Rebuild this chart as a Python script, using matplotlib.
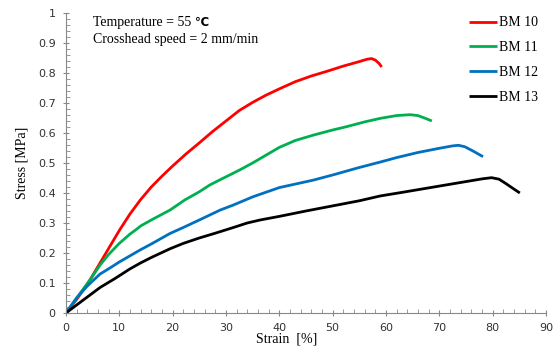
import matplotlib
matplotlib.use("Agg")
import matplotlib.pyplot as plt
from matplotlib.ticker import MultipleLocator, FuncFormatter

# BM 10 .. BM 13, strain [%] vs stress [MPa]
strain_bm10 = [0, 2, 4.5, 6, 8, 10, 12, 14, 16, 18, 20, 22.5, 25, 27.5, 30, 32.5, 35, 37.5, 40,
               43, 46, 49, 52, 55, 56.5, 57.3, 58, 58.7, 59.2]
stress_bm10 = [0, 0.045, 0.11, 0.155, 0.215, 0.275, 0.33, 0.378, 0.42, 0.456, 0.49, 0.53, 0.567,
               0.605, 0.64, 0.675, 0.702, 0.726, 0.747, 0.771, 0.79, 0.806, 0.823, 0.838, 0.846,
               0.848, 0.843, 0.832, 0.82]

strain_bm11 = [0, 2, 4.5, 6.4, 8, 10, 12, 13.3, 14, 16, 19.5, 22.3, 25, 27, 29, 32.6, 35, 40,
               43, 46.4, 50, 52.6, 56, 59, 62, 64.5, 66, 67.5, 68.6]
stress_bm11 = [0, 0.05, 0.11, 0.16, 0.195, 0.232, 0.263, 0.28, 0.29, 0.31, 0.343, 0.377, 0.404,
               0.427, 0.445, 0.477, 0.50, 0.552, 0.575, 0.593, 0.61, 0.621, 0.637, 0.649, 0.658,
               0.661, 0.658, 0.648, 0.64]

strain_bm12 = [0, 2, 4, 6.4, 8.25, 10, 13.9, 16, 19.5, 22, 25, 28.9, 31.4, 35, 40, 46.4, 50, 55,
               58.9, 62, 66, 70, 72.5, 73.6, 74.8, 76.3, 78.2]
stress_bm12 = [0, 0.05, 0.09, 0.13, 0.15, 0.17, 0.21, 0.23, 0.265, 0.285, 0.31, 0.343, 0.36,
               0.387, 0.418, 0.443, 0.46, 0.485, 0.503, 0.518, 0.535, 0.549, 0.557, 0.559, 0.554,
               0.54, 0.521]

strain_bm13 = [0, 3, 6.4, 9.2, 12, 13.9, 16, 19.5, 22, 25, 28, 31.4, 34, 36.4, 40, 45, 50, 55,
               58.9, 63, 67, 71, 75, 78, 79.8, 81.2, 82.6, 84, 85.1]
stress_bm13 = [0, 0.04, 0.085, 0.115, 0.147, 0.166, 0.185, 0.214, 0.232, 0.25, 0.266, 0.285,
               0.3, 0.31, 0.322, 0.34, 0.357, 0.374, 0.39, 0.402, 0.414, 0.426, 0.438, 0.447,
               0.451, 0.446, 0.43, 0.413, 0.4]

series = [
    ("BM 10", strain_bm10, stress_bm10, "#FF0000"),
    ("BM 11", strain_bm11, stress_bm11, "#00B050"),
    ("BM 12", strain_bm12, stress_bm12, "#0070C0"),
    ("BM 13", strain_bm13, stress_bm13, "#000000"),
]

fig = plt.figure(figsize=(5.53, 3.49), dpi=100)
ax = fig.add_axes([0.1193, 0.1032, 0.868, 0.8596])

for name, x, y, c in series:
    ax.plot(x, y, color=c, lw=2.0, label=name, solid_capstyle="butt", solid_joinstyle="round")

ax.set_xlim(0, 90)
ax.set_ylim(0, 1)
ax.xaxis.set_major_locator(MultipleLocator(10))
ax.xaxis.set_minor_locator(MultipleLocator(2))
ax.yaxis.set_major_locator(MultipleLocator(0.1))
ax.yaxis.set_minor_locator(MultipleLocator(0.02))
ax.yaxis.set_major_formatter(FuncFormatter(lambda v, p: f"{v:g}"))

for s in ["top", "right"]:
    ax.spines[s].set_visible(False)
for s in ["left", "bottom"]:
    ax.spines[s].set_color("#888888")
    ax.spines[s].set_linewidth(0.8)

ax.tick_params(which="major", direction="inout", length=5, width=0.8, color="#888888",
               labelsize=8, labelcolor="#333333", pad=5)
ax.tick_params(which="minor", direction="in", length=3, width=0.6, color="#888888")

serif = "Liberation Serif"
ax.set_xlabel("Strain  [%]", fontfamily=serif, fontsize=10, labelpad=2)
ax.xaxis.set_label_coords(0.46, -0.065)
ax.set_ylabel("Stress [MPa]", fontfamily=serif, fontsize=10, labelpad=7)

t1 = ax.text(0.056, 0.99, "Temperature = 55 ", transform=ax.transAxes, fontfamily=serif,
             fontsize=10, va="top")
ax.annotate("\u2103", xy=(1, 0.5), xycoords=t1, va="center", ha="left",
            fontfamily="DejaVu Sans", fontsize=8.5, fontweight="bold")
ax.text(0.056, 0.932, "Crosshead speed = 2 mm/min", transform=ax.transAxes,
        fontfamily=serif, fontsize=10, va="top")

ax.legend(loc="upper right", bbox_to_anchor=(1.01, 1.03), frameon=False,
          prop={"family": serif, "size": 10}, handlelength=2.0,
          handletextpad=0.15, labelspacing=0.85)

fig.savefig("out.png", dpi=100)
